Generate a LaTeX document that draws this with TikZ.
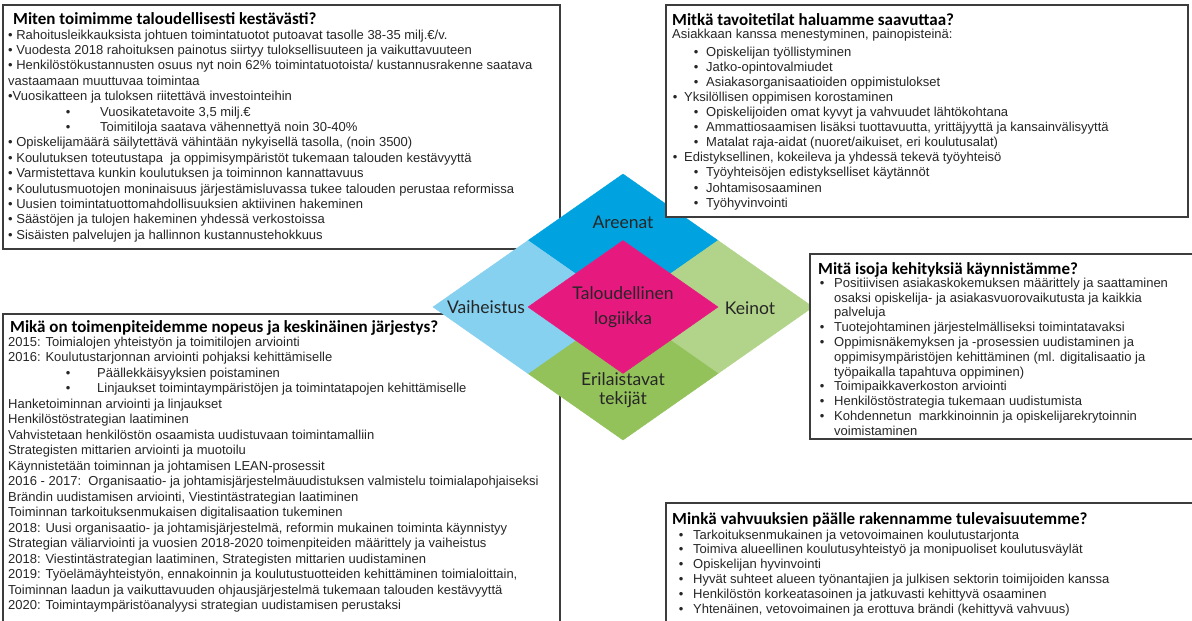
\documentclass[tikz,border=0pt]{standalone}
\usepackage{fontspec}
\setmainfont{Liberation Sans}
\newfontfamily\headfont{Carlito}
\newfontfamily\diafont{Lato}
\usetikzlibrary{positioning}
\usetikzlibrary{calc}

\definecolor{areena}{HTML}{00A3E0}
\definecolor{vaihe}{HTML}{86D0F0}
\definecolor{talous}{HTML}{E6197F}
\definecolor{keino}{HTML}{B2D48A}
\definecolor{erilais}{HTML}{93C25B}
\definecolor{ink}{HTML}{262626}
\definecolor{frame}{HTML}{3C3C3C}

% hanging bullet, #1 = gap before the text
\newcommand{\hangdot}[1]{\llap{\textbullet\hspace{#1pt}}}

\tikzset{
  boxframe/.style={draw=frame, line width=1.5pt},
  whitebox/.style={boxframe, fill=white},
  titletext/.style={anchor=base west, inner sep=0pt, text=black,
    font=\headfont\bfseries\fontsize{17}{20}\selectfont},
  bodytext/.style={anchor=base west, inner sep=0pt, text=ink,
    font=\fontsize{13}{15}\selectfont},
  dialabel/.style={align=center, inner sep=0pt, text=ink,
    font=\diafont\fontsize{17.5}{25}\selectfont},
}

\begin{document}
\begin{tikzpicture}[x=1pt, y=-1pt]
  \useasboundingbox (0,0) rectangle (1192,621);

  % Left boxes, under the diamond
  \draw[boxframe] (3,5) rectangle (560,249);
  \draw[boxframe] (3,314) rectangle (560,630);

  % Define the coordinates of the diamond
  \coordinate (oL) at (433,307);
  \coordinate (oT) at (623,174);
  \coordinate (oR) at (813,307);
  \coordinate (oB) at (623,440);
  \coordinate (iL) at (528,307);
  \coordinate (iT) at (623,240.5);
  \coordinate (iR) at (718,307);
  \coordinate (iB) at (623,373.5);
  \coordinate (mTL) at (528,240.5);
  \coordinate (mTR) at (718,240.5);
  \coordinate (mBR) at (718,373.5);
  \coordinate (mBL) at (528,373.5);
  \coordinate (nTL) at (575.5,273.75);
  \coordinate (nTR) at (670.5,273.75);
  \coordinate (nBR) at (670.5,340.25);
  \coordinate (nBL) at (575.5,340.25);

  % Draw the parts
  \filldraw[areena, line width=0.4pt] (mTL) -- (oT) -- (mTR) -- (nTR) -- (iT) -- (nTL) -- cycle;
  \filldraw[keino, line width=0.4pt] (mTR) -- (oR) -- (mBR) -- (nBR) -- (iR) -- (nTR) -- cycle;
  \filldraw[erilais, line width=0.4pt] (mBR) -- (oB) -- (mBL) -- (nBL) -- (iB) -- (nBR) -- cycle;
  \filldraw[vaihe, line width=0.4pt] (mBL) -- (oL) -- (mTL) -- (nTL) -- (iL) -- (nBL) -- cycle;
  \filldraw[talous, line width=0.4pt] (iL) -- (iT) -- (iR) -- (iB) -- cycle;

  \node[dialabel] (areenat) at (623,222) {Areenat};
  \node[dialabel] (vaiheistus) at (486,307) {Vaiheistus};
  \node[dialabel] (keinot) at (750,308) {Keinot};
  \node[dialabel] (logiikka) at (623,307.5) {Taloudellinen\\logiikka};
  \node[dialabel, font=\diafont\fontsize{17.5}{19}\selectfont] (tekijat) at (623,390.5) {Erilaistavat\\tekijät};

  % Right boxes, over the diamond
  \draw[whitebox] (666,5) rectangle (1188,217);
  \draw[whitebox] (810,254) rectangle (1198,439);
  \draw[whitebox] (666,503) rectangle (1198,630);

  % Box 1
  \node[titletext] (t1) at (13,24.5) {Miten toimimme taloudellisesti kestävästi?};
  \foreach \tx/\txt [count=\i from 0] in {
      8/{• Rahoitusleikkauksista johtuen toimintatuotot putoavat tasolle 38-35 milj.€/v.},
      8/{• Vuodesta 2018 rahoituksen painotus siirtyy tuloksellisuuteen ja vaikuttavuuteen},
      8/{• Henkilöstökustannusten osuus nyt noin 62\% toimintatuotoista/ kustannusrakenne saatava},
      8/{vastaamaan muuttuvaa toimintaa},
      8/{•Vuosikatteen ja tuloksen riitettävä investointeihin},
      100/{\hangdot{29.7}Vuosikatetavoite 3,5 milj.€},
      100/{\hangdot{29.7}Toimitiloja saatava vähennettyä noin 30-40\%},
      8/{• Opiskelijamäärä säilytettävä vähintään nykyisellä tasolla, (noin 3500)},
      8/{• Koulutuksen toteutustapa\ \ ja oppimisympäristöt tukemaan talouden kestävyyttä},
      8/{• Varmistettava kunkin koulutuksen ja toiminnon kannattavuus},
      8/{• Koulutusmuotojen moninaisuus järjestämisluvassa tukee talouden perustaa reformissa},
      8/{• Uusien toimintatuottomahdollisuuksien aktiivinen hakeminen},
      8/{• Säästöjen ja tulojen hakeminen yhdessä verkostoissa},
      8/{• Sisäisten palvelujen ja hallinnon kustannustehokkuus}}
    \node[bodytext] (a\i) at (\tx,39+15.4*\i) {\txt};

  % Box 2
  \node[titletext] (t2) at (672,25.5) {Mitkä tavoitetilat haluamme saavuttaa?};
  \node[bodytext] (b0) at (672,38.5) {Asiakkaan kanssa menestyminen, painopisteinä:};
  \foreach \tx/\txt [count=\i from 1] in {
      706/{\hangdot{7.7}Opiskelijan työllistyminen},
      706/{\hangdot{7.7}Jatko-opintovalmiudet},
      706/{\hangdot{7.7}Asiakasorganisaatioiden oppimistulokset},
      684/{\hangdot{6.7}Yksilöllisen oppimisen korostaminen},
      706/{\hangdot{7.7}Opiskelijoiden omat kyvyt ja vahvuudet lähtökohtana},
      706/{\hangdot{7.7}Ammattiosaamisen lisäksi tuottavuutta, yrittäjyyttä ja kansainvälisyyttä},
      706/{\hangdot{7.7}Matalat raja-aidat (nuoret/aikuiset, eri koulutusalat)},
      684/{\hangdot{6.7}Edistyksellinen, kokeileva ja yhdessä tekevä työyhteisö},
      706/{\hangdot{7.7}Työyhteisöjen edistykselliset käytännöt},
      706/{\hangdot{7.7}Johtamisosaaminen},
      706/{\hangdot{7.7}Työhyvinvointi}}
    \node[bodytext] (b\i) at (\tx,41.5+15.05*\i) {\txt};

  % Box 3
  \node[titletext] (t3) at (10,332.5) {Mikä on toimenpiteidemme nopeus ja keskinäinen järjestys?};
  \foreach \tx/\txt [count=\i from 0] in {
      8/{2015: Toimialojen yhteistyön ja toimitilojen arviointi},
      8/{2016: Koulutustarjonnan arviointi pohjaksi kehittämiselle},
      97/{\hangdot{26.7}Päällekkäisyyksien poistaminen},
      97/{\hangdot{26.7}Linjaukset toimintaympäristöjen ja toimintatapojen kehittämiselle},
      8/{Hanketoiminnan arviointi ja linjaukset},
      8/{Henkilöstöstrategian laatiminen},
      8/{Vahvistetaan henkilöstön osaamista uudistuvaan toimintamalliin},
      8/{Strategisten mittarien arviointi ja muotoilu},
      8/{Käynnistetään toiminnan ja johtamisen LEAN-prosessit},
      8/{2016 - 2017:\ \ Organisaatio- ja johtamisjärjestelmäuudistuksen valmistelu toimialapohjaiseksi},
      8/{Brändin uudistamisen arviointi, Viestintästrategian laatiminen},
      8/{Toiminnan tarkoituksenmukaisen digitalisaation tukeminen},
      8/{2018: Uusi organisaatio- ja johtamisjärjestelmä, reformin mukainen toiminta käynnistyy},
      8/{Strategian väliarviointi ja vuosien 2018-2020 toimenpiteiden määrittely ja vaiheistus},
      8/{2018: Viestintästrategian laatiminen, Strategisten mittarien uudistaminen},
      8/{2019: Työelämäyhteistyön, ennakoinnin ja koulutustuotteiden kehittäminen toimialoittain,},
      8/{Toiminnan laadun ja vaikuttavuuden ohjausjärjestelmä tukemaan talouden kestävyyttä},
      8/{2020: Toimintaympäristöanalyysi strategian uudistamisen perustaksi}}
    \node[bodytext] (c\i) at (\tx,346+15.5*\i) {\txt};

  % Box 4
  \node[titletext] (t4) at (818,274) {Mitä isoja kehityksiä käynnistämme?};
  \foreach \txt [count=\i from 0] in {
      {\hangdot{9.7}Positiivisen asiakaskokemuksen määrittely ja saattaminen},
      {osaksi opiskelija- ja asiakasvuorovaikutusta ja kaikkia},
      {palveluja},
      {\hangdot{9.7}Tuotejohtaminen järjestelmälliseksi toimintatavaksi},
      {\hangdot{9.7}Oppimisnäkemyksen ja -prosessien uudistaminen ja},
      {oppimisympäristöjen kehittäminen (ml. digitalisaatio ja},
      {työpaikalla tapahtuva oppiminen)},
      {\hangdot{9.7}Toimipaikkaverkoston arviointi},
      {\hangdot{9.7}Henkilöstöstrategia tukemaan uudistumista},
      {\hangdot{9.7}Kohdennetun\ \ markkinoinnin ja opiskelijarekrytoinnin},
      {voimistaminen}}
    \node[bodytext] (d\i) at (834,287.3+14.8*\i) {\txt};

  % Box 5
  \node[titletext] (t5) at (672,524.5) {Minkä vahvuuksien päälle rakennamme tulevaisuutemme?};
  \foreach \txt [count=\i from 0] in {
      {Tarkoituksenmukainen ja vetovoimainen koulutustarjonta},
      {Toimiva alueellinen koulutusyhteistyö ja monipuoliset koulutusväylät},
      {Opiskelijan hyvinvointi},
      {Hyvät suhteet alueen työnantajien ja julkisen sektorin toimijoiden kanssa},
      {Henkilöstön korkeatasoinen ja jatkuvasti kehittyvä osaaminen},
      {Yhtenäinen, vetovoimainen ja erottuva brändi (kehittyvä vahvuus)}}
    \node[bodytext] (e\i) at (693,539+14.8*\i) {\hangdot{9.7}\txt};
\end{tikzpicture}
\end{document}
